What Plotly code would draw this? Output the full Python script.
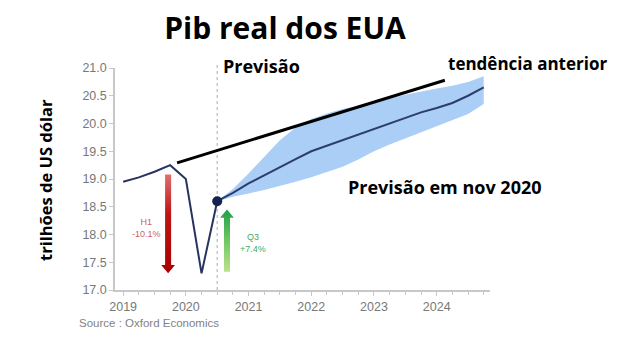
import plotly.graph_objects as go

# ---- data ----
hist_x = [2019.0, 2019.25, 2019.5, 2019.75, 2020.0, 2020.25, 2020.5]
hist_y = [18.95, 19.03, 19.13, 19.25, 19.0, 17.3, 18.6]

fc_x = [2020.5, 2020.75, 2021.0, 2021.25, 2021.5, 2021.75, 2022.0, 2022.25, 2022.5,
        2022.75, 2023.0, 2023.25, 2023.5, 2023.75, 2024.0, 2024.25, 2024.5, 2024.75]
fc_y = [18.6, 18.75, 18.92, 19.07, 19.22, 19.36, 19.5, 19.6, 19.7,
        19.79, 19.9, 20.0, 20.1, 20.2, 20.28, 20.37, 20.5, 20.65]
fc_hi = [18.6, 18.82, 19.1, 19.4, 19.7, 19.93, 20.08, 20.18, 20.26,
         20.32, 20.38, 20.45, 20.52, 20.58, 20.63, 20.68, 20.75, 20.85]
fc_lo = [18.6, 18.68, 18.74, 18.8, 18.87, 18.95, 19.03, 19.12, 19.22,
         19.35, 19.5, 19.62, 19.74, 19.85, 19.96, 20.06, 20.17, 20.35]

trend_x = [2019.86, 2024.13]
trend_y = [19.29, 20.78]

forecast_start = 2020.5

# arrows: x, from, to
h1_arrow = dict(x=2019.717, start=19.08, end=17.3)
q3_arrow = dict(x=2020.656, start=17.33, end=18.45)

year_ticks = [2019, 2020, 2021, 2022, 2023, 2024]
year_labels = ["2019", "2020", "2021", "2022", "2023", "2024"]

# ---- figure geometry (page body has an 8px margin) ----
OFF = 8
W, H = 623 - 2 * OFF, 364 - 2 * OFF
L, R, T, B = 115 - OFF, 490 - OFF, 68 - OFF, 290 - OFF


def xp(px):
    return (px - OFF - L) / (R - L)


def yp(py):
    return (B - (py - OFF)) / (B - T)


def arrow_poly(a, shaft=0.048, head=0.11, head_len=0.15):
    x0, s, e = a["x"], a["start"], a["end"]
    d = 1 if e > s else -1
    hb = e - d * head_len
    xs = [x0 - shaft, x0 - shaft, x0 - head, x0, x0 + head, x0 + shaft, x0 + shaft, x0 - shaft]
    ys = [s, hb, hb, e, hb, hb, s, s]
    return xs, ys


fig = go.Figure()

# band
fig.add_trace(go.Scatter(x=fc_x + fc_x[::-1], y=fc_hi + fc_lo[::-1], fill="toself",
                         fillcolor="rgb(170,206,246)", line=dict(width=0),
                         mode="lines", hoverinfo="skip", showlegend=False))

# arrows
rx, ry = arrow_poly(h1_arrow)
fig.add_trace(go.Scatter(x=rx, y=ry, fill="toself", mode="lines", line=dict(width=0),
                         fillgradient=dict(type="vertical",
                                           colorscale=[[0, "rgb(170,0,0)"], [0.6, "rgb(190,20,20)"],
                                                       [1, "rgb(225,110,110)"]]),
                         showlegend=False, hoverinfo="skip"))
gx, gy = arrow_poly(q3_arrow)
fig.add_trace(go.Scatter(x=gx, y=gy, fill="toself", mode="lines", line=dict(width=0),
                         fillgradient=dict(type="vertical",
                                           colorscale=[[0, "rgb(190,225,140)"], [0.5, "rgb(110,200,100)"],
                                                       [1, "rgb(30,160,70)"]]),
                         showlegend=False, hoverinfo="skip"))

# trend line
fig.add_trace(go.Scatter(x=trend_x, y=trend_y, mode="lines", line=dict(color="black", width=3),
                         showlegend=False, hoverinfo="skip"))

# historical + forecast line
fig.add_trace(go.Scatter(x=hist_x, y=hist_y, mode="lines", line=dict(color="rgb(40,52,96)", width=2),
                         showlegend=False))
fig.add_trace(go.Scatter(x=fc_x, y=fc_y, mode="lines", line=dict(color="rgb(45,60,110)", width=2),
                         showlegend=False))
fig.add_trace(go.Scatter(x=[hist_x[-1]], y=[hist_y[-1]], mode="markers",
                         marker=dict(color="rgb(20,35,80)", size=10), showlegend=False))

# vertical dotted forecast line
fig.add_shape(type="line", x0=forecast_start, x1=forecast_start, xref="x", yref="paper",
              y0=0, y1=yp(63), line=dict(color="rgb(200,200,200)", width=1.5, dash="dot"), layer="below")

ann = []
ann.append(dict(text="H1<br>-10.1%", x=xp(146), y=yp(228), xref="paper", yref="paper",
                xanchor="center", yanchor="middle",
                showarrow=False, font=dict(size=9, color="rgb(205,95,95)", family="Liberation Sans")))
ann.append(dict(text="Q3<br>+7.4%", x=xp(253), y=yp(243), xref="paper", yref="paper",
                xanchor="center", yanchor="middle",
                showarrow=False, font=dict(size=9, color="rgb(60,175,100)", family="Liberation Sans")))
bold = "Open Sans"
ann.append(dict(text="<b>Previsão</b>", x=xp(221), y=yp(66), xref="paper", yref="paper",
                xanchor="left", yanchor="middle", showarrow=False,
                font=dict(size=18, color="black", family=bold)))
ann.append(dict(text="<b>tendência anterior</b>", x=xp(446), y=yp(63), xref="paper", yref="paper",
                xanchor="left", yanchor="middle", showarrow=False,
                font=dict(size=17, color="black", family=bold)))
ann.append(dict(text="<b>Previsão em nov 2020</b>", x=xp(346), y=yp(187), xref="paper", yref="paper",
                xanchor="left", yanchor="middle", showarrow=False,
                font=dict(size=18, color="black", family=bold)))
ann.append(dict(text="<b>trilhões de US dólar</b>", x=xp(45), y=yp(180), xref="paper", yref="paper",
                xanchor="center", yanchor="middle", showarrow=False, textangle=-90,
                font=dict(size=16.5, color="black", family=bold)))
ann.append(dict(text="Source : Oxford Economics", x=xp(77), y=yp(323), xref="paper", yref="paper",
                xanchor="left", yanchor="middle", showarrow=False,
                font=dict(size=11.5, color="rgb(130,130,130)", family="Liberation Sans")))

fig.update_layout(
    width=W, height=H,
    margin=dict(l=L, r=W - R, t=T, b=H - B, pad=0),
    paper_bgcolor="white", plot_bgcolor="white",
    title=dict(text="<b>Pib real dos EUA</b>", x=(285 - OFF) / W, xanchor="center",
               y=1 - (28 - OFF) / H, yanchor="middle", font=dict(size=30, color="black", family=bold)),
    annotations=ann,
    xaxis=dict(range=[2018.87, 2024.85], tickvals=year_ticks, ticktext=year_labels,
               showgrid=False, zeroline=False, showline=True, linecolor="rgb(200,200,200)", linewidth=1.5,
               ticks="outside", ticklen=4, tickcolor="rgb(200,200,200)",
               minor=dict(dtick=0.25, tick0=2019, ticks="outside", ticklen=3, tickcolor="rgb(200,200,200)"),
               tickfont=dict(size=12.5, color="rgb(120,120,120)", family="Liberation Sans")),
    yaxis=dict(range=[17, 21], dtick=0.5, tickformat=".1f",
               showgrid=False, zeroline=False, showline=True, linecolor="rgb(200,200,200)", linewidth=1.5,
               ticks="outside", ticklen=4, tickcolor="rgb(200,200,200)",
               tickfont=dict(size=12.5, color="rgb(120,120,120)", family="Liberation Sans")),
)

fig.write_html("out.html")
